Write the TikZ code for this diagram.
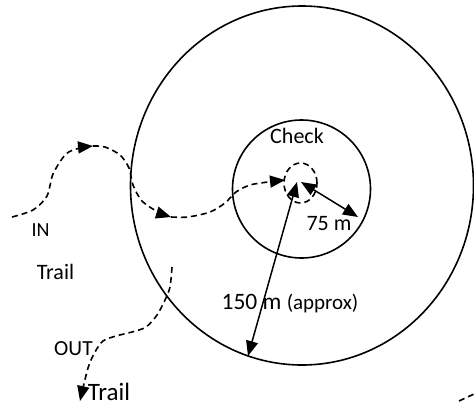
\documentclass[tikz,border=0pt]{standalone}
\usepackage{fontspec}
\setmainfont{Carlito}
\usetikzlibrary{arrows.meta}
\begin{document}
\begin{tikzpicture}[x=1pt,y=-1pt,
  lbl/.style={inner sep=0pt, anchor=base, font=\fontsize{22}{26}\selectfont},
  trailpath/.style={line width=1.6pt, dash pattern=on 6pt off 4pt},
  tipend/.style={-{Triangle[length=15pt,width=12pt]}},
  bothtips/.style={{Triangle[length=15pt,width=12pt]}-{Triangle[length=15pt,width=12pt]}},
  ring/.style={line width=1.6pt}]
\useasboundingbox (0,0) rectangle (474,405);

% circles
\draw[ring] (302,185.5) ellipse [x radius=171.5pt, y radius=179.5pt];
\draw[ring] (301.5,189) circle [radius=69pt];
\draw[trailpath] (300.5,183) ellipse [x radius=16.5pt, y radius=20pt];

% named points
\coordinate (c1) at (301,182);
\coordinate (c2) at (297,182);
\coordinate (r75) at (358,217);
\coordinate (r150) at (248,356);

% radius arrows
\draw[line width=1.5pt, bothtips] (c1) -- (r75);
\draw[line width=1.5pt, bothtips] (c2) -- (r150);

% IN trail
\coordinate (a0) at (12,217);
\coordinate (a1) at (93,146);
\coordinate (a2) at (171,217);
\coordinate (a3) at (285,180);
\draw[trailpath, tipend] plot[smooth] coordinates {(a0) (33,210) (47,196) (53,174) (66,154) (80,148) (a1)};
\draw[trailpath, tipend] plot[smooth] coordinates {(a1) (105,147) (120,155) (129,168) (133,185) (142,201) (158,212) (a2)};
\draw[trailpath, tipend] plot[smooth] coordinates {(a2) (188,217) (210,212) (225,203) (236,192) (250,185) (268,182) (a3)};

% OUT trail
\coordinate (b0) at (172,267);
\coordinate (b1) at (80,401);
\draw[trailpath, tipend] plot[smooth] coordinates {(b0) (170,287) (165,300) (157,315) (146,327) (132,332) (116,336) (103,341) (95,352) (88,368) (b1)};

% fragment bottom right
\coordinate (f0) at (459,401);
\coordinate (f1) at (474,394);
\draw[trailpath] (f0) -- (f1);

% labels
\node[lbl] (check) at (297,143) {Check};
\node[lbl] (m75) at (329,230) {75 m};
\node[lbl] (m150) at (290,309) {\fontsize{23.5}{26}\selectfont 150 m \fontsize{21}{26}\selectfont(approx)};
\node[lbl, font=\fontsize{20}{24}\selectfont] (in) at (40.5,236) {IN};
\node[lbl] (trailin) at (55.5,279) {Trail};
\node[lbl, font=\fontsize{21.5}{24}\selectfont] (out) at (73.5,355) {OUT};
\node[lbl, font=\fontsize{25}{28}\selectfont] (trailout) at (109,400) {Trail};
\end{tikzpicture}
\end{document}
